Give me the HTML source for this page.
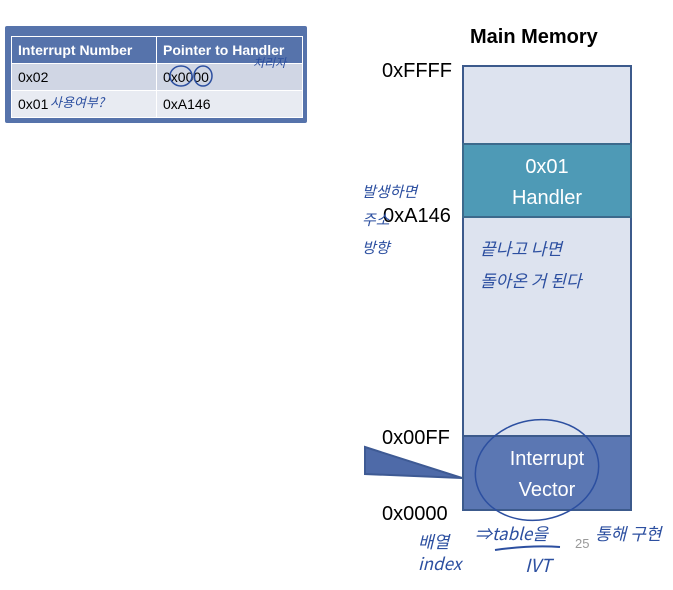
<!DOCTYPE html>
<html><head><meta charset="utf-8"><style>
body{margin:0;width:673px;height:590px;background:#fff;position:relative;overflow:hidden;font-family:"Liberation Sans","Noto Sans CJK KR",sans-serif}
.a{position:absolute}
table{border-collapse:collapse}
td{font-size:14px;height:26px;padding:0 6px;border:1px solid #fff}
.hw{position:absolute;color:#2c4fa0;font-family:"Noto Sans CJK KR",sans-serif;font-style:italic}
</style></head><body>
<div class="a" style="left:5px;top:26px;width:302px;height:97px;background:#5673ab;border-radius:2px"></div>
<table class="a" style="left:11px;top:36px;width:292px">
<tr style="background:#5673ab;color:#fff;font-weight:bold"><td style="width:132px">Interrupt Number</td><td>Pointer to Handler</td></tr>
<tr style="background:#d0d6e4"><td>0x02</td><td>0x0000</td></tr>
<tr style="background:#e8ebf2"><td>0x01</td><td>0xA146</td></tr>
</table>
<svg class="a" style="left:0;top:0" width="673" height="590">
<ellipse cx="181" cy="76" rx="11" ry="10" fill="none" stroke="#2c4fa0" stroke-width="1.5"/>
<ellipse cx="203" cy="76" rx="9" ry="10" fill="none" stroke="#2c4fa0" stroke-width="1.5"/>
<rect x="463" y="66" width="168" height="444" fill="#dde3ef" stroke="#3c5a8c" stroke-width="2"/>
<rect x="463" y="144" width="168" height="73" fill="#4e9ab6" stroke="#3c6a8c" stroke-width="2"/>
<rect x="463" y="436" width="168" height="74" fill="#5b77b3" stroke="#3c5a8c" stroke-width="2"/>
<polygon points="365,447 462,478 365,474" fill="#4e6aa8" stroke="#3e5a94" stroke-width="2"/>
<ellipse cx="537" cy="470" rx="62" ry="50" fill="none" stroke="#2c4fa0" stroke-width="1.5" transform="rotate(-10 537 470)"/>
<path d="M495 550 Q530 545 560 547" stroke="#2c4fa0" stroke-width="2" fill="none"/>
</svg>
<div class="a" style="left:470px;top:26px;font-size:20px;font-weight:bold">Main Memory</div>
<div class="a" style="left:382px;top:60px;font-size:20px">0xFFFF</div>
<div class="a" style="left:383px;top:205px;font-size:20px">0xA146</div>
<div class="a" style="left:382px;top:427px;font-size:20px">0x00FF</div>
<div class="a" style="left:382px;top:503px;font-size:20px">0x0000</div>
<div class="a" style="left:463px;top:152px;width:168px;text-align:center;color:#fff;font-size:20px;line-height:31px">0x01<br>Handler</div>
<div class="a" style="left:463px;top:444px;width:168px;text-align:center;color:#fff;font-size:20px;line-height:31px">Interrupt<br>Vector</div>
<div class="a" style="left:575px;top:536px;font-size:13px;color:#999">25</div>
<div class="hw" style="left:253px;top:54px;font-size:12px">처리자</div>
<div class="hw" style="left:50px;top:92px;font-size:13px">사용여부?</div>
<div class="hw" style="left:362px;top:178px;font-size:15px;line-height:28px">발생하면<br>주소<br>방향</div>
<div class="hw" style="left:480px;top:232px;font-size:17px;line-height:32px">끝나고 나면<br>돌아온 거 된다</div>
<div class="hw" style="left:418px;top:530px;font-size:17px;line-height:22px">배열<br>index</div>
<div class="hw" style="left:475px;top:520px;font-size:17px">⇒table을</div>
<div class="hw" style="left:525px;top:552px;font-size:18px">IVT</div>
<div class="hw" style="left:595px;top:520px;font-size:17px">통해 구현</div>
</body></html>
